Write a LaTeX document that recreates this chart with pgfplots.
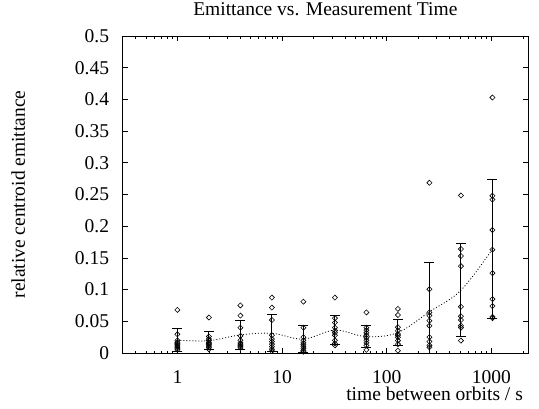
\documentclass[border=0pt]{standalone}
\usepackage{fontspec}
\setmainfont{Liberation Serif}
\usepackage{pgfplots}
\pgfplotsset{compat=1.18}

\begin{document}
\begin{tikzpicture}[font=\fontsize{19.5}{23}\selectfont]
\path[use as bounding box] (-122.7pt,-55pt) rectangle (416.3pt,353pt);
\begin{axis}[
  scale only axis,
  width=405.3pt, height=317pt,
  xmode=log,
  xmin=0.3, xmax=2240,
  ymin=0, ymax=0.5,
  xtick={1,10,100,1000},
  xticklabels={1,10,100,1000},
  minor xtick={0.3,0.4,0.5,0.6,0.7,0.8,0.9,2,3,4,5,6,7,8,9,20,30,40,50,60,70,80,90,200,300,400,500,600,700,800,900,2000},
  ytick={0,0.05,0.1,0.15,0.2,0.25,0.3,0.35,0.4,0.45,0.5},
  yticklabels={0,0.05,0.1,0.15,0.2,0.25,0.3,0.35,0.4,0.45,0.5},
  /pgf/number format/assume math mode=true,
  major tick length=5pt, minor tick length=2.5pt,
  tick style={black, line width=0.7pt},
  axis line style={line width=0.8pt},
  xticklabel style={anchor=base, inner sep=0pt, yshift=-30.3pt},
  yticklabel style={anchor=east, inner sep=0pt, xshift=-13.4pt},
  title={Emittance vs. Measurement Time},
  title style={at={(axis description cs:0.5,1.0442)}, anchor=base, inner sep=0pt},
  xlabel={time between orbits / s},
  xlabel style={at={(axis description cs:0.9877,-0.1514)}, anchor=base east, inner sep=0pt},
  ylabel={relative centroid emittance},
  ylabel style={at={(axis description cs:-0.2411,0.5)}, anchor=base, inner sep=0pt},
]

% mean with standard deviation
\addplot[only marks, mark=*, mark size=0.01pt, black,
  error bars/.cd, y dir=both, y explicit,
  error mark=|,
  error bar style={line width=0.95pt, black},
  error mark options={black, line width=0.95pt, mark size=5pt}]
coordinates {
  (1, 0.0202) +- (0, 0.0177)
  (2, 0.0195) +- (0, 0.0145)
  (4, 0.0285) +- (0, 0.0225)
  (8, 0.0310) +- (0, 0.0290)
  (16, 0.0220) +- (0, 0.0210)
  (32, 0.0360) +- (0, 0.0230)
  (64, 0.0258) +- (0, 0.0173)
  (128, 0.0323) +- (0, 0.0207)
  (256, 0.0650) +- (0, 0.0777)
  (512, 0.0990) +- (0, 0.0730)
  (1024, 0.1640) +- (0, 0.1093)
};

% mean, smoothed
\addplot[black, line width=0.8pt, dash pattern=on 1pt off 2pt, smooth, tension=0.6]
coordinates {
  (1, 0.0202) (2, 0.0195) (4, 0.0285) (8, 0.0310) (16, 0.0220) (32, 0.0360)
  (64, 0.0258) (128, 0.0323) (256, 0.0650) (512, 0.0990) (1024, 0.1640)
};

% single measurements
\addplot[only marks, black, mark=square, mark size=1.8pt, mark options={rotate=45, line width=0.6pt}]
coordinates {
  (1, 0.068) (1, 0.0295) (1, 0.020) (1, 0.017) (1, 0.015) (1, 0.013) (1, 0.011) (1, 0.009) (1, 0.007) (1, 0.005)
  (2, 0.056) (2, 0.026) (2, 0.022) (2, 0.020) (2, 0.017) (2, 0.015) (2, 0.013) (2, 0.011) (2, 0.009) (2, 0.006)
  (4, 0.075) (4, 0.059) (4, 0.040) (4, 0.027) (4, 0.020) (4, 0.016) (4, 0.014) (4, 0.012) (4, 0.010) (4, 0.008)
  (8, 0.0874) (8, 0.0716) (8, 0.052) (8, 0.028) (8, 0.022) (8, 0.018) (8, 0.014) (8, 0.010) (8, 0.006) (8, 0.003)
  (16, 0.081) (16, 0.040) (16, 0.025) (16, 0.020) (16, 0.016) (16, 0.013) (16, 0.010) (16, 0.007) (16, 0.004) (16, 0.002)
  (32, 0.0874) (32, 0.055) (32, 0.048) (32, 0.040) (32, 0.035) (32, 0.032) (32, 0.028) (32, 0.020) (32, 0.015) (32, 0.012)
  (64, 0.064) (64, 0.040) (64, 0.036) (64, 0.032) (64, 0.028) (64, 0.024) (64, 0.020) (64, 0.016) (64, 0.012) (64, 0.005)
  (128, 0.0695) (128, 0.060) (128, 0.0406) (128, 0.035) (128, 0.030) (128, 0.028) (128, 0.0248) (128, 0.0195) (128, 0.014) (128, 0.0037)
  (256, 0.2686) (256, 0.1006) (256, 0.064) (256, 0.059) (256, 0.051) (256, 0.043) (256, 0.025) (256, 0.018) (256, 0.012) (256, 0.009)
  (512, 0.2485) (512, 0.164) (512, 0.153) (512, 0.137) (512, 0.073) (512, 0.058) (512, 0.052) (512, 0.043) (512, 0.040) (512, 0.0195)
  (1024, 0.403) (1024, 0.248) (1024, 0.242) (1024, 0.194) (1024, 0.163) (1024, 0.126) (1024, 0.085) (1024, 0.074) (1024, 0.057) (1024, 0.055)
};
\end{axis}
\end{tikzpicture}
\end{document}
